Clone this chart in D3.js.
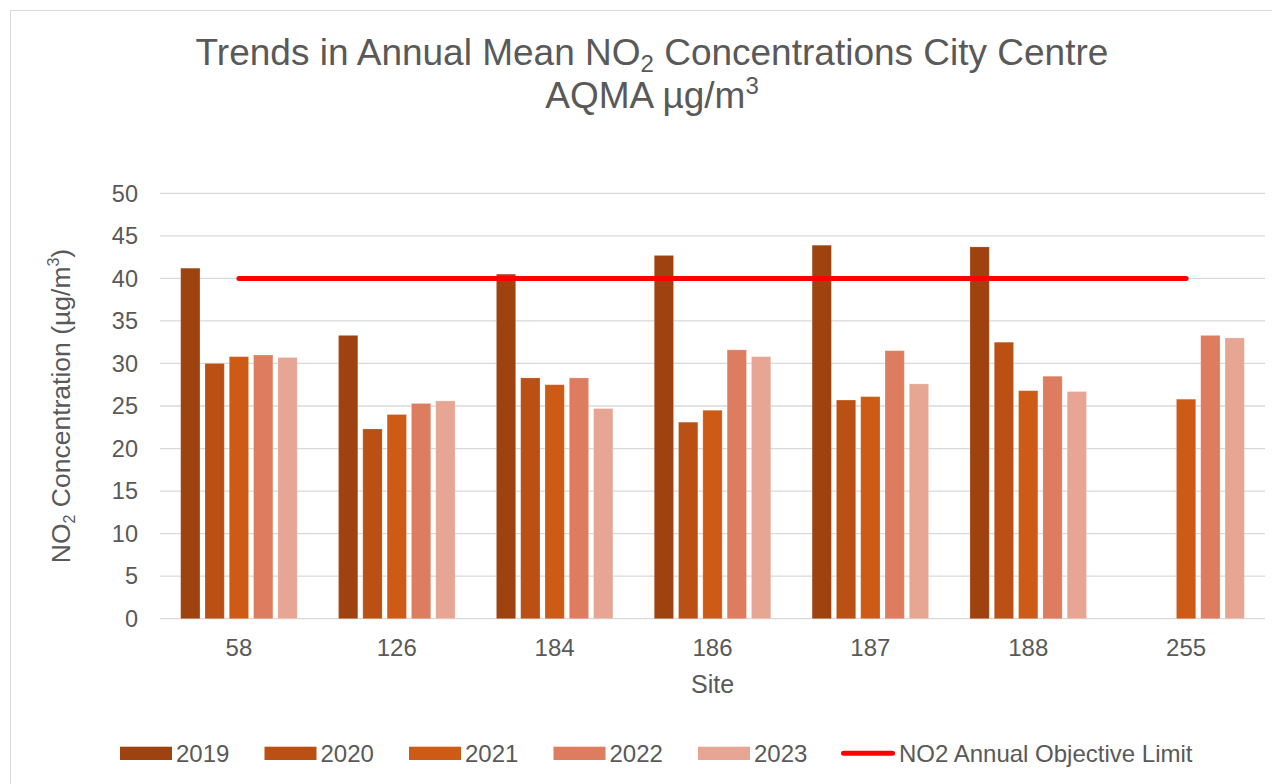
<!DOCTYPE html>
<html>
<head>
<meta charset="utf-8">
<script src="https://cdn.jsdelivr.net/npm/d3@7"></script>
<style>
  html, body { margin: 0; padding: 0; background: #fff; }
  svg { display: block; font-family: "Liberation Sans", Arial, sans-serif; }
</style>
</head>
<body>
<svg id="chart" width="1272" height="784"></svg>
<script>
// ---- Data ----
const sites = ["58", "126", "184", "186", "187", "188", "255"];
const years = ["2019", "2020", "2021", "2022", "2023"];
const values2019 = [41.2, 33.3, 40.5, 42.7, 43.9, 43.7, null];
const values2020 = [30.0, 22.3, 28.3, 23.1, 25.7, 32.5, null];
const values2021 = [30.8, 24.0, 27.5, 24.5, 26.1, 26.8, 25.8];
const values2022 = [31.0, 25.3, 28.3, 31.6, 31.5, 28.5, 33.3];
const values2023 = [30.7, 25.6, 24.7, 30.8, 27.6, 26.7, 33.0];
const objectiveLimit = [40, 40, 40, 40, 40, 40, 40];
const yTicks = [0, 5, 10, 15, 20, 25, 30, 35, 40, 45, 50];
const seriesColors = ["#9E4210", "#BA5013", "#CD5B16", "#DE7C60", "#E6A693"];
const limitColor = "#FF0000";
const limitLabel = "NO2 Annual Objective Limit";

const seriesValues = [values2019, values2020, values2021, values2022, values2023];

const svg = d3.select("#chart");
const textColor = "#595959";
const gridColor = "#D9D9D9";

// chart border
svg.append("rect").attr("x", 10.5).attr("y", 10.5).attr("width", 1300).attr("height", 800)
  .attr("fill", "#fff").attr("stroke", "#D9D9D9").attr("stroke-width", 1);

const plot = { left: 160, right: 1265, top: 193.3, bottom: 618.7 };

const x0 = d3.scaleBand().domain(sites).range([plot.left, plot.right]).padding(0);
const groupW = x0.bandwidth() * 0.738;
const x1 = d3.scaleBand().domain(years).range([0, groupW]).paddingInner(0.206).paddingOuter(0);
const y = d3.scaleLinear().domain([0, 50]).range([plot.bottom, plot.top]);

// gridlines
svg.append("g").selectAll("line").data(yTicks).join("line")
  .attr("x1", plot.left).attr("x2", plot.right)
  .attr("y1", d => y(d)).attr("y2", d => y(d))
  .attr("stroke", gridColor).attr("stroke-width", 1.3);

// y tick labels
svg.append("g").selectAll("text").data(yTicks).join("text")
  .attr("x", 138).attr("y", d => y(d)).attr("dy", "0.35em")
  .attr("text-anchor", "end").attr("font-size", 23.5).attr("fill", textColor)
  .text(d => d);

// bars
const barData = [];
sites.forEach((s, i) => {
  years.forEach((yr, j) => {
    const v = seriesValues[j][i];
    if (v != null) barData.push({ site: s, year: yr, value: v, color: seriesColors[j] });
  });
});
svg.append("g").selectAll("rect").data(barData).join("rect")
  .attr("x", d => x0(d.site) + (x0.bandwidth() - groupW) / 2 + x1(d.year))
  .attr("width", x1.bandwidth())
  .attr("y", d => y(d.value))
  .attr("height", d => y(0) - y(d.value))
  .attr("fill", d => d.color)
  .attr("stroke", "rgba(255,255,255,0.25)").attr("stroke-width", 0.8);

// objective limit line
const line = d3.line()
  .x((d, i) => x0(sites[i]) + x0.bandwidth() / 2)
  .y(d => y(d));
svg.append("path").datum(objectiveLimit).attr("d", line)
  .attr("fill", "none").attr("stroke", limitColor).attr("stroke-width", 5)
  .attr("stroke-linecap", "round");

// x tick labels
svg.append("g").selectAll("text").data(sites).join("text")
  .attr("x", d => x0(d) + x0.bandwidth() / 2).attr("y", 656)
  .attr("text-anchor", "middle").attr("font-size", 24).attr("fill", textColor)
  .text(d => d);

// x axis title
svg.append("text").attr("x", (plot.left + plot.right) / 2).attr("y", 693)
  .attr("text-anchor", "middle").attr("font-size", 25).attr("fill", textColor).text("Site");

// y axis title
const yt = svg.append("text")
  .attr("transform", `translate(70, ${(plot.top + plot.bottom) / 2}) rotate(-90)`)
  .attr("text-anchor", "middle").attr("font-size", 26.5).attr("fill", textColor);
yt.append("tspan").text("NO");
yt.append("tspan").attr("font-size", 16).attr("dy", 5).text("2");
yt.append("tspan").attr("dy", -5).text(" Concentration (µg/m");
yt.append("tspan").attr("font-size", 16).attr("dy", -11).text("3");
yt.append("tspan").attr("dy", 11).text(")");

// title
const t1 = svg.append("text").attr("x", 652).attr("y", 65)
  .attr("text-anchor", "middle").attr("font-size", 37).attr("fill", textColor);
t1.append("tspan").text("Trends in Annual Mean NO");
t1.append("tspan").attr("font-size", 24).attr("dy", 7).text("2");
t1.append("tspan").attr("dy", -7).text(" Concentrations City Centre");
const t2 = svg.append("text").attr("x", 652).attr("y", 108)
  .attr("text-anchor", "middle").attr("font-size", 37).attr("fill", textColor);
t2.append("tspan").text("AQMA µg/m");
t2.append("tspan").attr("font-size", 24).attr("dy", -14).text("3");

// legend
const legendItems = years.map((yr, j) => ({ label: yr, color: seriesColors[j], type: "rect" }))
  .concat([{ label: limitLabel, color: limitColor, type: "line" }]);
const legendX = [120, 264.5, 409, 553.5, 698, 841];
const lg = svg.append("g").selectAll("g").data(legendItems).join("g")
  .attr("transform", (d, i) => `translate(${legendX[i]}, 0)`);
lg.filter(d => d.type === "rect").append("rect")
  .attr("x", 0).attr("y", 746.7).attr("width", 52).attr("height", 13.3)
  .attr("fill", d => d.color);
lg.filter(d => d.type === "line").append("line")
  .attr("x1", 2.5).attr("x2", 51.5).attr("y1", 753.3).attr("y2", 753.3)
  .attr("stroke", d => d.color).attr("stroke-width", 5).attr("stroke-linecap", "round");
lg.append("text").attr("x", d => d.type === "line" ? 58 : 56).attr("y", 761.5)
  .attr("font-size", 24).attr("fill", textColor).text(d => d.label);
</script>
</body>
</html>
